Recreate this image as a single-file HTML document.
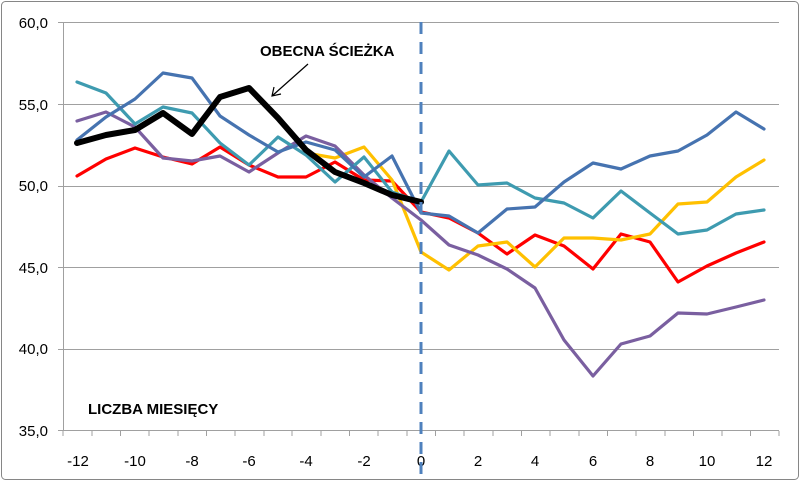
<!DOCTYPE html>
<html><head><meta charset="utf-8"><style>
html,body{margin:0;padding:0;background:#fff;}
svg{display:block;font-family:"Liberation Sans",sans-serif;}
</style></head><body>
<svg width="800" height="482" viewBox="0 0 800 482">
<rect x="1.5" y="1.5" width="797" height="478" rx="4" fill="#fff" stroke="#868686" stroke-width="1"/>
<g stroke="#a0a0a0" stroke-width="1">
<line x1="58" y1="22.5" x2="779" y2="22.5"/>
<line x1="58" y1="104.5" x2="779" y2="104.5"/>
<line x1="58" y1="186.5" x2="779" y2="186.5"/>
<line x1="58" y1="267.5" x2="779" y2="267.5"/>
<line x1="58" y1="349.5" x2="779" y2="349.5"/>
<line x1="58" y1="430.5" x2="779" y2="430.5"/>
<line x1="63.5" y1="22" x2="63.5" y2="431"/>
</g>
<g font-size="15" fill="#000" text-anchor="end">
<text x="48" y="28">60,0</text><text x="48" y="110">55,0</text><text x="48" y="191">50,0</text>
<text x="48" y="273">45,0</text><text x="48" y="354">40,0</text><text x="48" y="436">35,0</text>
</g>
<g font-size="15" fill="#000" text-anchor="middle">
<text x="78" y="466">-12</text><text x="135" y="466">-10</text><text x="192" y="466">-8</text><text x="249" y="466">-6</text>
<text x="306" y="466">-4</text><text x="364" y="466">-2</text><text x="421" y="466">0</text><text x="478" y="466">2</text>
<text x="535" y="466">4</text><text x="593" y="466">6</text><text x="650" y="466">8</text><text x="707" y="466">10</text><text x="764" y="466">12</text>
</g>
<g fill="none" stroke-width="3.2" stroke-linejoin="round" stroke-linecap="round">
<polyline stroke="#f00" points="77,176 106,159 135,148 163,157 192,164 220,147 249,165 278,177 306,177 335,162 364,180 392,181 421,212 449,218 478,233 507,254 535,235 564,246 593,269 621,234 650,242 678,282 707,266 736,253 764,242"/>
<polyline stroke="#ffc000" points="306,153 335,158 364,147 392,180 421,252 449,270 478,246 507,242 535,267 564,238 593,238 621,240 650,234 678,204 707,202 736,177 764,160"/>
<polyline stroke="#7a5fa0" points="77,121 106,112 135,127 163,158 192,161 220,156 249,172 278,153 306,136 335,146 364,175 392,198 421,220 449,245 478,255 507,269 535,288 564,340 593,376 621,344 650,336 678,313 707,314 736,307 764,300"/>
<polyline stroke="#3e9bb0" points="77,82 106,93 135,124 163,107 192,113 220,143 249,165 278,137 306,155 335,182 364,157 392,192 421,202 449,151 478,185 507,183 535,198 564,203 593,218 621,191 650,213 678,234 707,230 736,214 764,210"/>
<polyline stroke="#4673b0" points="77,140 106,117 135,99 163,73 192,78 220,116 249,135 278,152 306,142 335,150 364,177 392,156 421,213 449,216 478,233 507,209 535,207 564,182 593,163 621,169 650,156 678,151 707,135 736,112 764,129"/>
<polyline stroke="#000" stroke-width="6" points="77,143 106,135 135,130 163,113 192,134 220,97 249,88 278,118 306,150 335,172 364,183 392,195 421,202"/>
</g>
<line x1="421" y1="22" x2="421" y2="480" stroke="#4f81bd" stroke-width="3" stroke-dasharray="12,8"/>
<g stroke="#a0a0a0"><line x1="63" y1="431" x2="63" y2="436"/><line x1="92" y1="431" x2="92" y2="436"/><line x1="120.5" y1="431" x2="120.5" y2="436"/><line x1="149" y1="431" x2="149" y2="436"/><line x1="178" y1="431" x2="178" y2="436"/><line x1="206.5" y1="431" x2="206.5" y2="436"/><line x1="235" y1="431" x2="235" y2="436"/><line x1="264" y1="431" x2="264" y2="436"/><line x1="292" y1="431" x2="292" y2="436"/><line x1="321" y1="431" x2="321" y2="436"/><line x1="349.5" y1="431" x2="349.5" y2="436"/><line x1="378" y1="431" x2="378" y2="436"/><line x1="407" y1="431" x2="407" y2="436"/><line x1="435.5" y1="431" x2="435.5" y2="436"/><line x1="464" y1="431" x2="464" y2="436"/><line x1="493" y1="431" x2="493" y2="436"/><line x1="521.5" y1="431" x2="521.5" y2="436"/><line x1="550" y1="431" x2="550" y2="436"/><line x1="579" y1="431" x2="579" y2="436"/><line x1="607.5" y1="431" x2="607.5" y2="436"/><line x1="636" y1="431" x2="636" y2="436"/><line x1="665" y1="431" x2="665" y2="436"/><line x1="693.5" y1="431" x2="693.5" y2="436"/><line x1="722" y1="431" x2="722" y2="436"/><line x1="750.5" y1="431" x2="750.5" y2="436"/><line x1="779" y1="431" x2="779" y2="436"/></g>
<text x="260" y="56" font-size="15" font-weight="bold" fill="#000">OBECNA ŚCIEŻKA</text>
<line x1="308" y1="64" x2="272" y2="96" stroke="#000" stroke-width="1.2"/>
<polyline points="274,87 272,96 281,94" fill="none" stroke="#000" stroke-width="1.2"/>
<text x="88" y="414" font-size="15" font-weight="bold" fill="#000">LICZBA MIESIĘCY</text>
</svg>
</body></html>
